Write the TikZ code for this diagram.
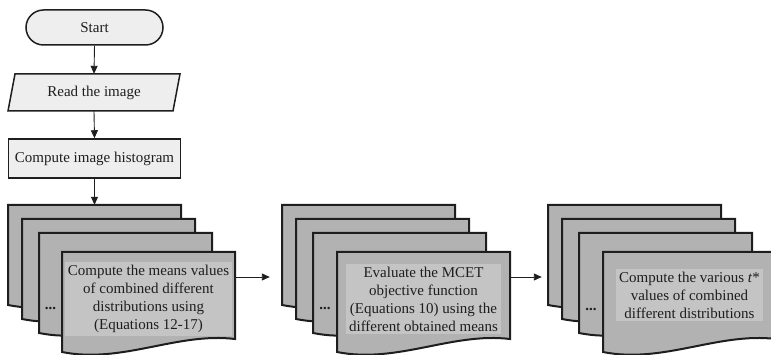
\documentclass[tikz,border=0pt]{standalone}
\usepackage{fontspec}
\setmainfont{Liberation Serif}
\usetikzlibrary{arrows.meta}
\definecolor{boxfill}{RGB}{238,238,238}
\definecolor{docgray}{RGB}{178,178,178}
\definecolor{docinner}{RGB}{196,196,196}
\definecolor{inkline}{RGB}{30,30,30}
\tikzset{
  every node/.style={font=\fontsize{15}{18}\selectfont, text=inkline},
  flowbox/.style={draw=inkline, line width=1.5pt, fill=boxfill, inner sep=0pt},
  term/.style={flowbox, minimum width=137pt, minimum height=35pt, rounded corners=17.5pt},
  procbox/.style={flowbox, minimum width=172pt, minimum height=39pt},
  ghost/.style={inner sep=0pt, minimum width=166pt, minimum height=37pt},
  docframe/.style={inner sep=0pt, minimum width=173pt, minimum height=100pt},
  doctext/.style={align=center, fill=docinner, inner sep=3pt},
  dotsnode/.style={font=\bfseries\fontsize{15}{18}\selectfont},
  docline/.style={draw=inkline, line width=2pt, fill=docgray, line join=miter},
  arrow/.style={draw=inkline, line width=0.9pt, -{Triangle[length=8pt,width=7pt]}},
}
% #1 x, #2 y (top-left), #3 name
\newcommand\docpage[3]{%
  \filldraw[docline] (#1,#2) -- (#1+173,#2) -- (#1+173,#2+87)
     .. controls (#1+115,#2+80) and (#1+60,#2+112) .. (#1,#2+100) -- cycle;
  \node[docframe] (#3) at (#1+86.5,#2+50) {};
}
\begin{document}
\begin{tikzpicture}[x=1pt,y=-1pt]
\useasboundingbox (0,0) rectangle (771,355);

% top flow
\node[term] (start) at (94.5,27.5) {Start};
\draw[flowbox] (8,111) -- (15,74) -- (180,74) -- (173,111) -- cycle;
\node[ghost] (read) at (94,92.5) {Read the image};
\node[procbox] (hist) at (94.5,158.5) {Compute image histogram};

% stack 1
\docpage{8}{205}{s1d1}
\docpage{22}{219}{s1d2}
\docpage{39}{233}{s1d3}
\docpage{62}{252}{s1d4}
\node[doctext] (s1t) at (148.5,299) {Compute the means values\\of combined different\\distributions using\\(Equations 12-17)};
\node[dotsnode] (s1dots) at (50.5,308) {...};

% stack 2
\docpage{282}{205}{s2d1}
\docpage{296}{219}{s2d2}
\docpage{313}{233}{s2d3}
\docpage{337}{252}{s2d4}
\node[doctext] (s2t) at (423.5,299) {Evaluate the MCET\\objective function\\(Equations 10) using the\\different obtained means};
\node[dotsnode] (s2dots) at (325,308) {...};

% stack 3
\docpage{548}{205}{s3d1}
\docpage{562}{219}{s3d2}
\docpage{579}{233}{s3d3}
\docpage{603}{252}{s3d4}
\node[doctext] (s3t) at (689.5,295) {Compute the various \textit{t}*\\values of combined\\different distributions};
\node[dotsnode] (s3dots) at (591,309) {...};

% connectors
\draw[arrow] (start.south) -- (read.north);
\draw[arrow] (read.south) -- (hist.north);
\draw[arrow] (hist.south) -- (s1d1.north);
\draw[arrow, shorten >=12pt] ([yshift=25pt]s1d4.east) -- ([yshift=25pt]s1d4.east -| s2d1.west);
\draw[arrow, shorten >=6pt] ([yshift=25pt]s2d4.east) -- ([yshift=25pt]s2d4.east -| s3d1.west);
\end{tikzpicture}
\end{document}
